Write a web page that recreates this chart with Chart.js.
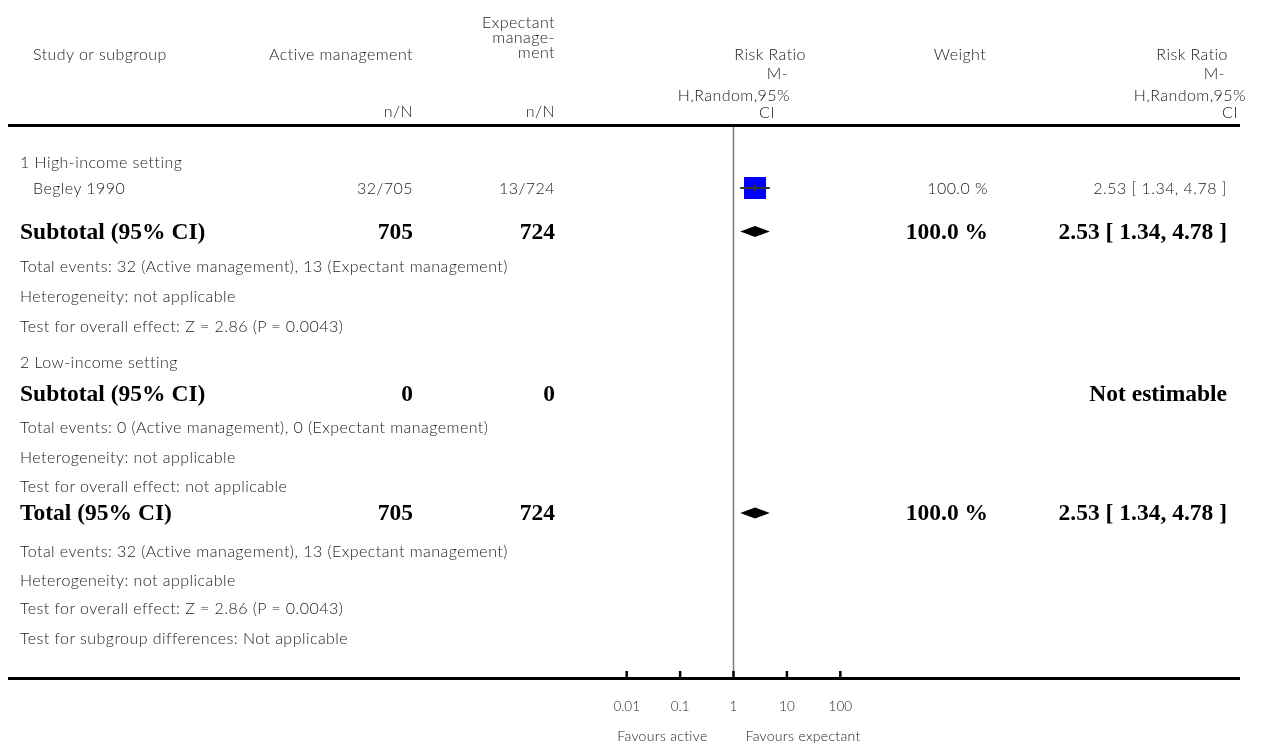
<!DOCTYPE html>
<html>
<head>
<meta charset="utf-8">
<script src="https://cdn.jsdelivr.net/npm/chart.js@4.4.1/dist/chart.umd.min.js"></script>
<style>
  html, body { margin: 0; padding: 0; background: #fff; }
  #wrap { position: relative; width: 1267px; height: 746px; overflow: hidden; }
  #plot { position: absolute; left: 0; top: 0; }
  .t {
    position: absolute; white-space: nowrap; line-height: 1;
    font-family: Lato, "Open Sans", sans-serif; font-weight: 300;
    font-size: 16px; letter-spacing: 0.45px; color: #1a1a1a; transform: translateY(-50%);
  }
  .b { font-family: "Liberation Serif", "DejaVu Serif", serif; font-weight: 700; font-size: 23.5px; letter-spacing: 0; color: #000; }
  .s { font-size: 14px; letter-spacing: 0.3px; }
</style>
</head>
<body>
<div id="wrap"><canvas id="plot" width="1267" height="746"></canvas></div>
<script>
// studies
const studies = ['Begley 1990'];
const activeEvents = [32];
const activeTotal = [705];
const expectEvents = [13];
const expectTotal = [724];
const studyRR = [2.53];
const studyLow = [1.34];
const studyHigh = [4.78];
const studyWeight = [100.0];

// pooled rows: subgroup 1, subgroup 2, overall
const pooledLabels = ['Subtotal (95% CI)', 'Subtotal (95% CI)', 'Total (95% CI)'];
const pooledActive = [705, 0, 705];
const pooledExpect = [724, 0, 724];
const pooledRR = [2.53, null, 2.53];
const pooledLow = [1.34, null, 1.34];
const pooledHigh = [4.78, null, 4.78];
const pooledWeight = [100.0, null, 100.0];

const tickValues = [0.01, 0.1, 1, 10, 100];
const tickLabels = ['0.01', '0.1', '1', '10', '100'];

// vertical layout, in line units below the top rule
const LINE = 30;
const studyRow = [2.07];
const pooledRow = [3.52, 8.93, 12.9];
const noteRows = [
  [1.2, '1 High-income setting'],
  [4.68, 'Total events: 32 (Active management), 13 (Expectant management)'],
  [5.68, 'Heterogeneity: not applicable'],
  [6.65, 'Test for overall effect: Z = 2.86 (P = 0.0043)'],
  [7.88, '2 Low-income setting'],
  [10.04, 'Total events: 0 (Active management), 0 (Expectant management)'],
  [11.04, 'Heterogeneity: not applicable'],
  [12.0, 'Test for overall effect: not applicable'],
  [14.15, 'Total events: 32 (Active management), 13 (Expectant management)'],
  [15.12, 'Heterogeneity: not applicable'],
  [16.08, 'Test for overall effect: Z = 2.86 (P = 0.0043)'],
  [17.08, 'Test for subgroup differences: Not applicable']
];

const W = 1267, TOP = 126, AXIS = 678;
const fmt = v => v.toFixed(2);
const ciText = (r, l, h) => `${fmt(r)} [ ${fmt(l)}, ${fmt(h)} ]`;

const forestFrame = {
  id: 'forestFrame',
  beforeDatasetsDraw(chart) {
    const { ctx, chartArea, scales: { x, y } } = chart;
    ctx.save();
    const x1 = x.getPixelForValue(1);
    ctx.strokeStyle = '#7a7a7a';
    ctx.lineWidth = 1.5;
    ctx.beginPath();
    ctx.moveTo(x1, chartArea.top);
    ctx.lineTo(x1, chartArea.bottom);
    ctx.stroke();

    ctx.fillStyle = '#000';
    ctx.fillRect(8, chartArea.top - 2, 1232, 3);
    ctx.fillRect(8, chartArea.bottom - 1, 1232, 3);
    tickValues.forEach(v => {
      const px = x.getPixelForValue(v);
      ctx.fillRect(px - 1.25, chartArea.bottom - 7, 2.5, 7);
    });

    // pooled estimates as diamonds
    pooledRR.forEach((r, i) => {
      if (r == null) return;
      const py = y.getPixelForValue(pooledRow[i]);
      ctx.beginPath();
      ctx.moveTo(x.getPixelForValue(pooledLow[i]), py);
      ctx.lineTo(x.getPixelForValue(r), py - 5.5);
      ctx.lineTo(x.getPixelForValue(pooledHigh[i]), py);
      ctx.lineTo(x.getPixelForValue(r), py + 5.5);
      ctx.closePath();
      ctx.fill();
    });
    ctx.restore();
  }
};

const chart = new Chart(document.getElementById('plot'), {
  type: 'scatter',
  data: {
    datasets: [
      {
        data: studies.map((s, i) => ({ x: studyRR[i], y: studyRow[i] })),
        pointStyle: 'rect',
        pointRadius: studies.map((s, i) => Math.sqrt(studyWeight[i] / 100) * 11 / Math.SQRT1_2),
        backgroundColor: '#0000ff',
        borderWidth: 0,
        order: 3
      },
      ...studies.map((s, i) => ({
        type: 'line',
        data: [{ x: studyLow[i], y: studyRow[i] }, { x: studyHigh[i], y: studyRow[i] }],
        borderColor: '#333',
        borderWidth: 2,
        pointRadius: 0,
        order: 2
      })),
      {
        data: studies.map((s, i) => ({ x: studyRR[i], y: studyRow[i] })),
        pointStyle: 'line',
        rotation: 90,
        pointRadius: 3.5,
        borderColor: '#333',
        borderWidth: 2,
        order: 1
      }
    ]
  },
  options: {
    responsive: false,
    animation: false,
    events: [],
    layout: { padding: { left: 626.7, right: W - 840.3, top: TOP, bottom: 0 } },
    plugins: { legend: { display: false }, tooltip: { enabled: false } },
    scales: {
      x: {
        type: 'logarithmic',
        min: 0.01,
        max: 100,
        afterBuildTicks: s => { s.ticks = tickValues.map(v => ({ value: v })); },
        afterFit: s => { s.height = 746 - AXIS; },
        grid: { display: false, drawTicks: false },
        border: { display: false },
        ticks: {
          autoSkip: false,
          maxRotation: 0,
          padding: 21,
          color: '#1a1a1a',
          font: { family: 'Lato', size: 13.5, weight: '300' },
          callback: (v, i) => tickLabels[i]
        }
      },
      y: { type: 'linear', reverse: true, min: 0, max: (AXIS - TOP) / LINE, display: false }
    }
  },
  plugins: [forestFrame]
});

// table text
const wrap = document.getElementById('wrap');
function put(text, x, y, align, cls) {
  const d = document.createElement('div');
  d.className = 't' + (cls ? ' ' + cls : '');
  d.textContent = text;
  d.style.top = y + 'px';
  if (align === 'right') d.style.right = (W - x) + 'px';
  else if (align === 'center') { d.style.left = x + 'px'; d.style.transform = 'translate(-50%,-50%)'; }
  else d.style.left = x + 'px';
  wrap.appendChild(d);
}

const col = { label: 20, study: 33, active: 413, expect: 555, weight: 988, rr: 1227 };

// header
put('Study or subgroup', col.study, 54);
put('Active management', col.active, 54, 'right');
put('Expectant', col.expect, 22, 'right');
put('manage-', col.expect, 37, 'right');
put('ment', col.expect, 52, 'right');
put('n/N', col.active, 111, 'right');
put('n/N', col.expect, 111, 'right');
[['Risk Ratio', 806, 54], ['M-', 788, 73], ['H,Random,95%', 790, 95], ['CI', 775, 112]]
  .forEach(([t, x, y]) => put(t, x, y, 'right'));
put('Weight', 960, 54, 'center');
[['Risk Ratio', 1228, 54], ['M-', 1225, 73], ['H,Random,95%', 1246, 95], ['CI', 1238, 112]]
  .forEach(([t, x, y]) => put(t, x, y, 'right'));

const yPix = v => chart.scales.y.getPixelForValue(v);

studies.forEach((s, i) => {
  const py = yPix(studyRow[i]);
  put(s, col.study, py);
  put(activeEvents[i] + '/' + activeTotal[i], col.active, py, 'right');
  put(expectEvents[i] + '/' + expectTotal[i], col.expect, py, 'right');
  put(studyWeight[i].toFixed(1) + ' %', col.weight, py, 'right');
  put(ciText(studyRR[i], studyLow[i], studyHigh[i]), col.rr, py, 'right');
});

pooledLabels.forEach((lab, i) => {
  const py = yPix(pooledRow[i]);
  put(lab, col.label, py, 'left', 'b');
  put(String(pooledActive[i]), col.active, py, 'right', 'b');
  put(String(pooledExpect[i]), col.expect, py, 'right', 'b');
  if (pooledRR[i] == null) {
    put('Not estimable', col.rr, py, 'right', 'b');
  } else {
    put(pooledWeight[i].toFixed(1) + ' %', col.weight, py, 'right', 'b');
    put(ciText(pooledRR[i], pooledLow[i], pooledHigh[i]), col.rr, py, 'right', 'b');
  }
});

noteRows.forEach(([r, t]) => put(t, col.label, yPix(r)));

const x1 = chart.scales.x.getPixelForValue(1);
put('Favours active', x1 - 26, 736, 'right', 's');
put('Favours expectant', x1 + 12, 736, 'left', 's');
</script>
</body>
</html>
